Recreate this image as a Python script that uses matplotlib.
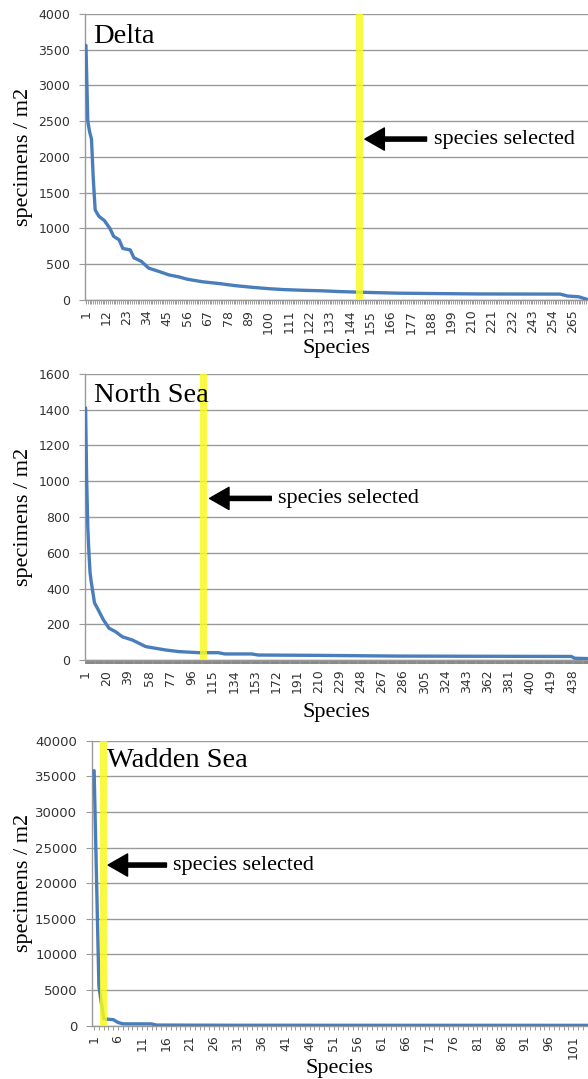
import matplotlib
matplotlib.use('Agg')
import matplotlib.pyplot as plt

# Delta: abundance per species, ranked
delta_rank = [1, 2, 3, 4, 5, 6, 8, 11, 14, 16, 19, 21, 25, 27, 31, 35, 41, 46,
              51, 56, 64, 73, 82, 91, 100, 108, 119, 129, 139, 150, 170, 197,
              214, 258, 262, 268, 273]
delta_value = [3560, 2500, 2350, 2250, 1680, 1260, 1170, 1110, 1000, 890, 840,
               720, 700, 590, 540, 445, 395, 350, 325, 290, 255, 230, 200, 177,
               158, 145, 135, 128, 117, 108, 95, 88, 84, 82, 55, 45, 5]
delta_selected = 149

# North Sea
north_rank = [1, 2, 3, 4, 5, 6, 9, 12, 17, 22, 28, 34, 43, 55, 73, 85, 103,
              120, 126, 150, 156, 211, 283, 437, 440, 452]
north_value = [1410, 1000, 740, 600, 490, 440, 320, 285, 225, 178, 158, 130,
               112, 75, 56, 47, 41, 41, 34, 34, 28, 26, 22, 20, 10, 8]
north_selected = 106.5

# Wadden Sea
wadden_rank = [1, 2, 3, 4, 5, 6, 7, 13, 14, 30, 104]
wadden_value = [35800, 5500, 950, 900, 850, 450, 260, 250, 90, 60, 50]
wadden_selected = 2.75

line_color = '#4A7EBB'
grid_color = '#9A9A9A'
tick_color = '#333333'
yellow = '#F8F820'
serif = ['Liberation Serif', 'DejaVu Serif']

fig = plt.figure(figsize=(5.88, 10.79), dpi=100)


def panel(rect, ranks, values, ymax, ystep, xmax, xstep, selected, title,
          title_pos, arrow_y, head_x, tail_x, text_x, ysize, ylab_x, xlab_y,
          minor_w=0.7, minor_c=grid_color):
    ax = fig.add_axes(rect)
    ax.plot(ranks, values, color=line_color, lw=2.4, solid_joinstyle='round',
            solid_capstyle='round', zorder=3)
    ax.axvline(selected, color=yellow, lw=5, alpha=0.85, zorder=4)
    ax.set_xlim(0.5, xmax)
    ax.set_ylim(0, ymax)
    ax.set_yticks(range(0, ymax + 1, ystep))
    ax.set_xticks(range(1, int(xmax) + 1, xstep))
    ax.set_xticks(range(1, int(xmax) + 1), minor=True)
    ax.grid(axis='y', color=grid_color, lw=1.0, zorder=0)
    ax.set_axisbelow(True)
    for s in ['top', 'right']:
        ax.spines[s].set_visible(False)
    for s in ['left', 'bottom']:
        ax.spines[s].set_color(grid_color)
        ax.spines[s].set_linewidth(1.0)
    ax.tick_params(axis='y', length=4.5, color=grid_color, labelsize=ysize,
                   labelcolor=tick_color, pad=6)
    ax.tick_params(axis='x', which='both', length=3, color=minor_c,
                   width=minor_w, labelsize=9, labelcolor=tick_color, pad=4,
                   labelrotation=90)
    ax.set_ylabel('specimens / m2', family=serif, fontsize=16)
    ax.yaxis.set_label_coords(ylab_x, 0.5)
    ax.set_xlabel('Species', family=serif, fontsize=16)
    ax.xaxis.set_label_coords(0.5, xlab_y)
    ax.text(title_pos[0], title_pos[1], title, transform=ax.transAxes,
            family=serif, fontsize=20.5, va='baseline', ha='left', zorder=6)
    ax.annotate('', xy=(head_x, arrow_y), xytext=(tail_x, arrow_y),
                arrowprops=dict(arrowstyle='simple,head_length=0.7,head_width=0.8,tail_width=0.15',
                                color='black', mutation_scale=20,
                                shrinkA=0, shrinkB=0), zorder=6)
    ax.text(text_x, arrow_y, 'species selected', family=serif, fontsize=16,
            va='center', ha='left', zorder=6)
    return ax


panel([0.1446, 0.722, 0.8554, 0.2651], delta_rank, delta_value, 4000, 500,
      273.1, 11, delta_selected, 'Delta', (0.016, 0.9), 2250, 152.2, 185.6,
      189.6, 9, -0.103, -0.136)

panel([0.1446, 0.3883, 0.8554, 0.2651], north_rank, north_value, 1600, 200,
      452, 19, north_selected, 'North Sea', (0.018, 0.903), 904, 112.3, 167.7,
      173.6, 9, -0.103, -0.15, minor_w=1.3, minor_c='#888888')

panel([0.156, 0.0494, 0.844, 0.2641], wadden_rank, wadden_value, 40000, 5000,
      104.1, 5, wadden_selected, 'Wadden Sea', (0.031, 0.909), 22550, 3.92,
      16.1, 17.5, 9.5, -0.118, -0.117)

fig.savefig('out.png', dpi=100)
